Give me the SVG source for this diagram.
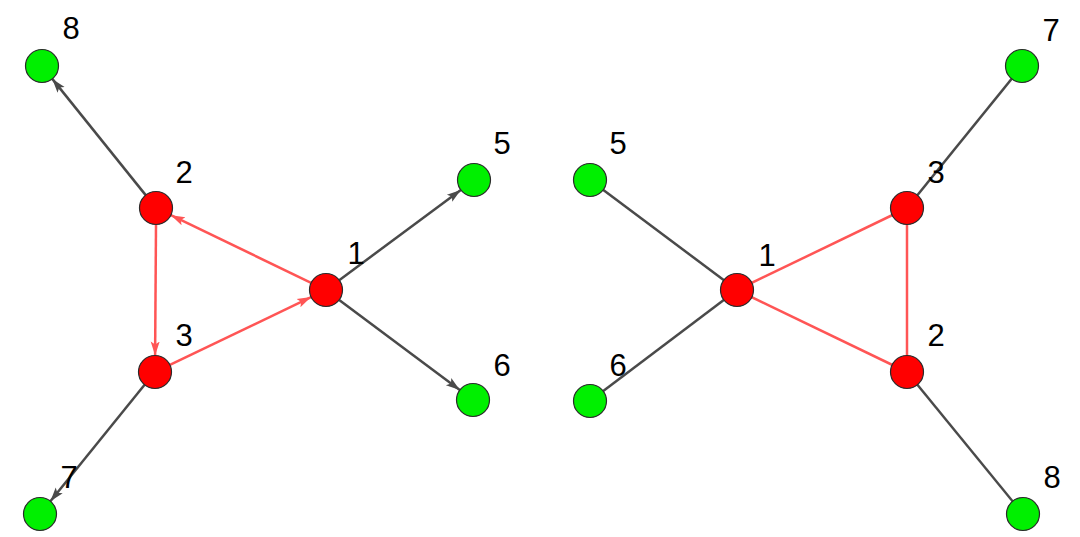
<svg xmlns="http://www.w3.org/2000/svg" width="1080" height="537" viewBox="0 0 1080 537">
<style>
.bg{fill:#ffffff}
.e{stroke:#4a4a4a;stroke-width:2.5;fill:none}
.r{stroke:#ff5555;stroke-width:2.5;fill:none}
.red{fill:#ff0000;stroke:#2a2a2a;stroke-width:1.2}
.grn{fill:#00f000;stroke:#2a2a2a;stroke-width:1.2}
.lbl{font-family:"Liberation Sans",Arial,sans-serif;font-size:31px;fill:#000;text-anchor:middle}
</style>
<defs>
<marker id="ag" markerUnits="userSpaceOnUse" markerWidth="16" markerHeight="12" refX="14" refY="6" orient="auto" viewBox="0 0 16 12">
<path d="M0,1.5 L14,6 L0,10.5 L3,6 Z" fill="#4a4a4a"/>
</marker>
<marker id="ar" markerUnits="userSpaceOnUse" markerWidth="16" markerHeight="12" refX="14" refY="6" orient="auto" viewBox="0 0 16 12">
<path d="M0,1.5 L14,6 L0,10.5 L3,6 Z" fill="#ff5555"/>
</marker>
</defs>
<rect class="bg" x="0" y="0" width="1080" height="537"/>
<g id="connectors">
<line class="e" x1="145.7" y1="195.1" x2="52.3" y2="78.9" marker-end="url(#ag)"/>
<line class="r" x1="311.1" y1="282.8" x2="170.9" y2="215.2" marker-end="url(#ar)"/>
<line class="r" x1="156" y1="224.5" x2="155.1" y2="355.5" marker-end="url(#ar)"/>
<line class="r" x1="169.9" y1="364.9" x2="311.1" y2="297.1" marker-end="url(#ar)"/>
<line class="e" x1="339.2" y1="280.2" x2="460.8" y2="189.9" marker-end="url(#ag)"/>
<line class="e" x1="339.2" y1="299.9" x2="459.8" y2="390.1" marker-end="url(#ag)"/>
<line class="e" x1="144.6" y1="384.8" x2="50.4" y2="501.2" marker-end="url(#ag)"/>
<line class="e" x1="590" y1="180" x2="737" y2="290"/>
<line class="e" x1="590" y1="401" x2="737" y2="290"/>
<line class="r" x1="737" y1="290" x2="907" y2="208"/>
<line class="r" x1="737" y1="290" x2="907" y2="372"/>
<line class="r" x1="907" y1="208" x2="907" y2="372"/>
<line class="e" x1="907" y1="208" x2="1022" y2="66"/>
<line class="e" x1="907" y1="372" x2="1023" y2="514"/>
</g>
<g id="L8"><circle class="grn" cx="42" cy="66" r="16.5"/><text class="lbl" x="71" y="39">8</text></g>
<g id="L2"><circle class="red" cx="156" cy="208" r="16.5"/><text class="lbl" x="184" y="183">2</text></g>
<g id="L3"><circle class="red" cx="155" cy="372" r="16.5"/><text class="lbl" x="184" y="346">3</text></g>
<g id="L1"><circle class="red" cx="326" cy="290" r="16.5"/><text class="lbl" x="356" y="264">1</text></g>
<g id="L5"><circle class="grn" cx="474" cy="180" r="16.5"/><text class="lbl" x="502" y="154">5</text></g>
<g id="L6"><circle class="grn" cx="473" cy="400" r="16.5"/><text class="lbl" x="502" y="376">6</text></g>
<g id="L7"><circle class="grn" cx="40" cy="514" r="16.5"/><text class="lbl" x="69" y="488">7</text></g>
<g id="R5"><circle class="grn" cx="590" cy="180" r="16.5"/><text class="lbl" x="618" y="154">5</text></g>
<g id="R6"><circle class="grn" cx="590" cy="401" r="16.5"/><text class="lbl" x="618" y="376">6</text></g>
<g id="R1"><circle class="red" cx="737" cy="290" r="16.5"/><text class="lbl" x="767" y="266">1</text></g>
<g id="R3"><circle class="red" cx="907" cy="208" r="16.5"/><text class="lbl" x="936" y="183">3</text></g>
<g id="R2"><circle class="red" cx="907" cy="372" r="16.5"/><text class="lbl" x="936" y="346">2</text></g>
<g id="R7"><circle class="grn" cx="1022" cy="66" r="16.5"/><text class="lbl" x="1051" y="41">7</text></g>
<g id="R8"><circle class="grn" cx="1023" cy="514" r="16.5"/><text class="lbl" x="1052" y="488">8</text></g>
</svg>
